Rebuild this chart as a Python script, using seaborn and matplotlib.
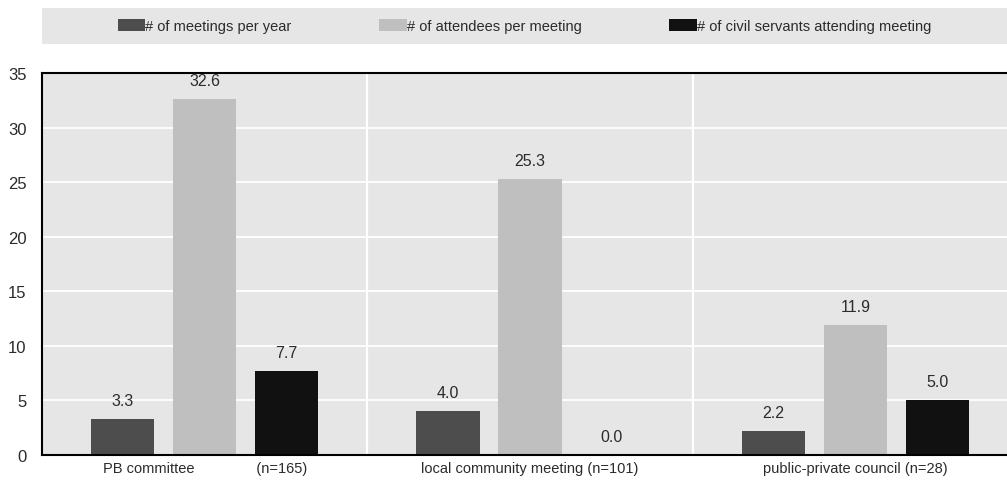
import matplotlib
matplotlib.use("Agg")
import matplotlib.pyplot as plt
from matplotlib.patches import Rectangle, Patch
from matplotlib.ticker import FixedLocator
import seaborn as sns
import pandas as pd

# Meeting statistics by participatory body
groups = ["PB committee               (n=165)",
          "local community meeting (n=101)",
          "public-private council (n=28)"]
series = ["# of meetings per year",
          "# of attendees per meeting",
          "# of civil servants attending meeting"]
meetings_per_year = [3.3, 4.0, 2.2]
attendees_per_meeting = [32.6, 25.3, 11.9]
civil_servants = [7.7, 0.0, 5.0]
colors = ["#4d4d4d", "#bfbfbf", "#111111"]
y_ticks = [0, 5, 10, 15, 20, 25, 30, 35]

rows = []
for name, vals in zip(series, [meetings_per_year, attendees_per_meeting, civil_servants]):
    for g, v in zip(groups, vals):
        rows.append({"group": g, "series": name, "value": v})
df = pd.DataFrame(rows)

sns.set_theme(style="white")
plt.rcParams["font.family"] = ["Liberation Sans", "DejaVu Sans"]
text_color = "#2b2b2b"
bg = "#e6e6e6"

W, H = 1007, 481
fig = plt.figure(figsize=(W / 100, H / 100), dpi=100)
ax = fig.add_axes([42 / W, (H - 456) / H, (1018 - 42) / W, (456 - 74) / H])
ax.set_facecolor(bg)

sns.barplot(data=df, x="group", y="value", hue="series", order=groups,
            hue_order=series, palette=dict(zip(series, colors)),
            width=0.756, gap=0.23, saturation=1, ax=ax, legend=False,
            edgecolor="none")

for cont in ax.containers:
    ax.bar_label(cont, fmt="%.1f", padding=8, fontsize=11.5, color=text_color)

ax.set_xlim(-0.5, 2.5)
ax.set_ylim(0, 35)
ax.set_yticks(y_ticks)
ax.xaxis.set_minor_locator(FixedLocator([0.5, 1.5]))
ax.grid(True, axis="y", which="major", color="white", linewidth=1.3)
ax.grid(True, axis="x", which="minor", color="white", linewidth=1.6)
ax.set_axisbelow(True)
ax.set_xlabel("")
ax.set_ylabel("")
ax.tick_params(axis="x", which="major", length=0, labelsize=10.5,
               labelcolor=text_color, pad=4)
ax.tick_params(axis="x", which="minor", direction="in", length=5,
               width=1.2, color="black")
ax.tick_params(axis="y", direction="in", length=5, width=1.2, color="black",
               labelsize=12, labelcolor=text_color, pad=11)
for side in ["left", "bottom", "top"]:
    ax.spines[side].set_visible(True)
    ax.spines[side].set_color("black")
    ax.spines[side].set_linewidth(1.5)
ax.spines["right"].set_visible(False)

# Legend band above the plot
x0, x1 = 42 / W, 1.0
y0, y1 = (H - 45) / H, (H - 9) / H
fig.patches.append(Rectangle((x0, y0), x1 - x0, y1 - y0, transform=fig.transFigure,
                             facecolor=bg, edgecolor="none", zorder=0))
handles = [Patch(facecolor=c, edgecolor="none") for c in colors]
fig.legend(handles, series, loc="center", bbox_to_anchor=((x0 + x1) / 2, (y0 + y1) / 2),
           ncol=3, frameon=False, fontsize=10.5, labelcolor=text_color,
           handlelength=1.9, handleheight=0.9, handletextpad=0.0,
           columnspacing=6.0, borderaxespad=0)

fig.savefig("out.png", dpi=100)
